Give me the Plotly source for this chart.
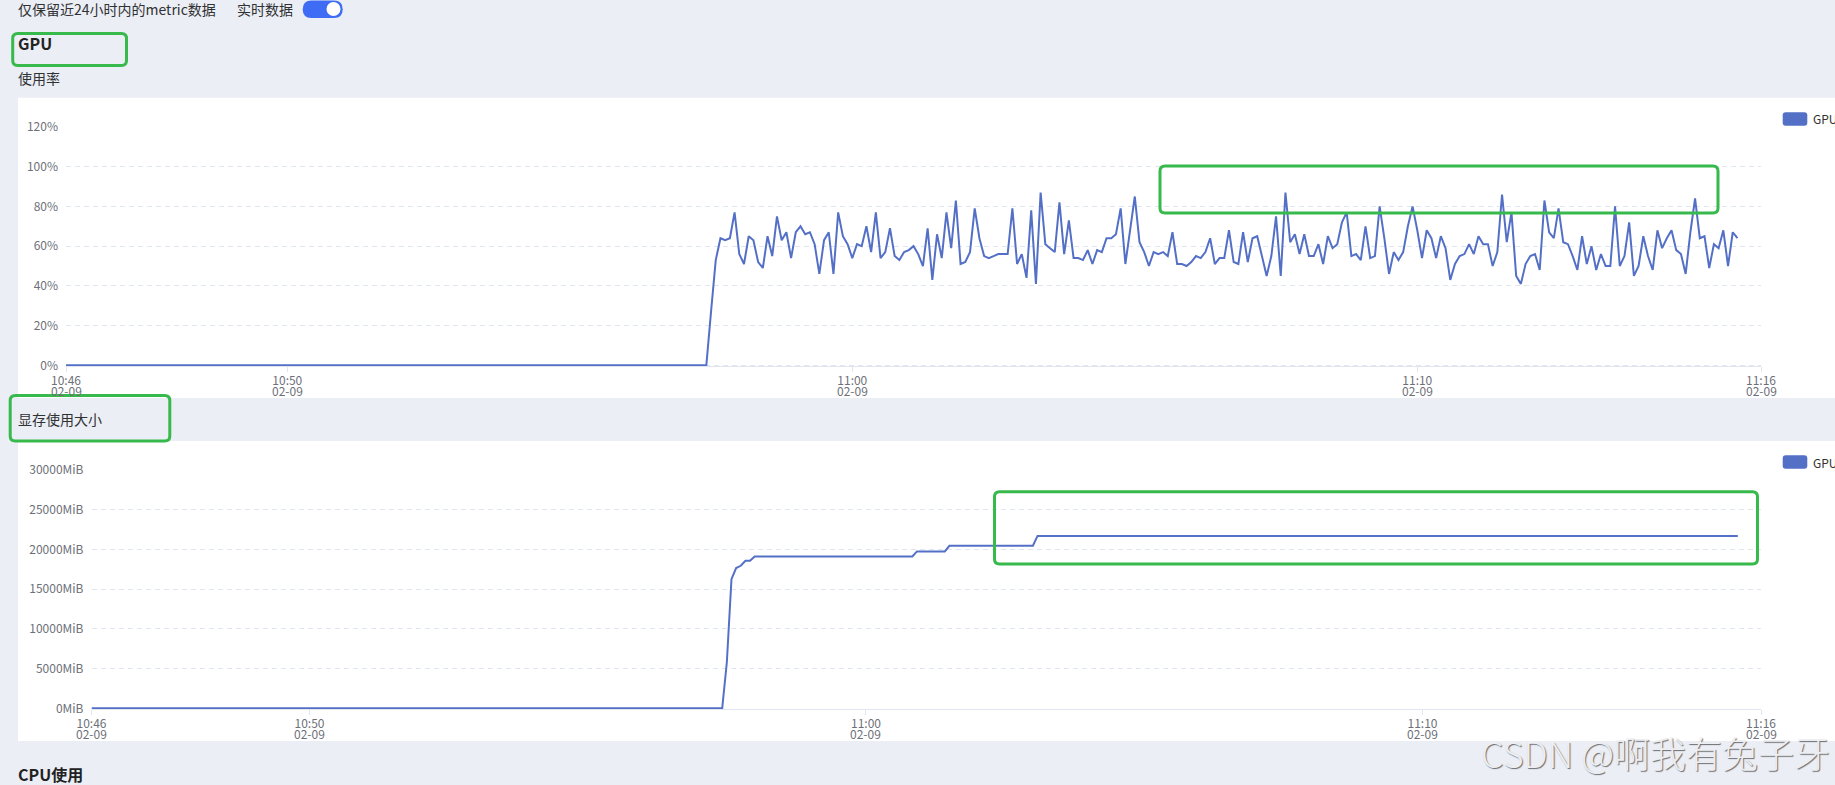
import pandas as pd
import plotly.graph_objects as go

# ---------------- data ----------------
DATE = "2025-02-09"
WINDOW_START = "10:46:05"
WINDOW_END = "11:16:05"

x_tick_times = ["10:46:05", "10:50:00", "11:00:00", "11:10:00", "11:16:05"]
x_tick_labels = ["10:46", "10:50", "11:00", "11:10", "11:16"]
x_tick_dates = ["02-09", "02-09", "02-09", "02-09", "02-09"]

gpu_pct_ticks = [0, 20, 40, 60, 80, 100, 120]
gpu_pct_labels = ["0%", "20%", "40%", "60%", "80%", "100%", "120%"]
mem_mib_ticks = [0, 5000, 10000, 15000, 20000, 25000, 30000]
mem_mib_labels = ["0MiB", "5000MiB", "10000MiB", "15000MiB", "20000MiB", "25000MiB", "30000MiB"]

# GPU utilisation (%): idle part, then 5 s samples starting at 10:57:25
gpu_idle_times = ["10:46:05"]
gpu_idle_values = [0]
gpu_sample_start = "10:57:25"
gpu_sample_step = "5s"
gpu_util = [
    0, 27,
    53, 64, 63, 64, 77, 56, 51, 65, 63, 52,
    49, 65, 55, 75, 63, 67, 54, 67, 70, 66,
    67, 61, 46, 63, 67, 46, 77, 65, 61, 54,
    61, 60, 70, 57, 77, 54, 57, 69, 55, 53,
    57, 58, 60, 56, 50, 69, 43, 66, 54, 77,
    59, 83, 51, 52, 57, 79, 64, 55, 54, 55,
    56, 56, 56, 79, 51, 56, 44, 78, 41, 87,
    61, 59, 57, 82, 56, 73, 54, 54, 53, 58,
    51, 58, 57, 64, 64, 66, 79, 51, 68, 85,
    62, 57, 50, 57, 56, 57, 55, 67, 51,
    51, 50, 52, 55, 54, 57, 64, 51, 54, 54,
    68, 52, 51, 67, 52, 64, 65, 55, 45, 55,
    75, 45, 87, 62, 66, 56, 66, 55, 55, 61,
    51, 65, 59, 61, 72, 77, 55, 56, 53, 70,
    54, 55, 80, 64, 46, 57, 53, 57, 70, 80,
    68, 54, 68, 64, 54, 65, 59, 43, 51, 55,
    56, 61, 56, 65, 61, 61, 50, 57, 86, 62,
    77, 45, 41, 51, 55, 56, 48, 83, 67, 64,
    79, 62, 61, 55, 48, 65, 51, 60, 48, 56,
    50, 50, 80, 50, 55, 72, 45, 50, 65, 55,
    48, 68, 59, 64, 68, 58, 56, 46, 67, 84,
    64, 65, 49, 61, 59, 68, 50, 67, 64,
]

# GPU memory used (MiB) at the sample times where it changes
mem_times = ["10:46:05", "10:57:25", "10:57:30", "10:57:35", "10:57:40", "10:57:45",
             "10:57:50", "10:57:55", "10:58:00", "11:00:50", "11:00:55", "11:01:25",
             "11:01:30", "11:03:00", "11:03:05", "11:15:40"]
mem_used_mib = [0, 0, 5800, 16260, 17650, 17940,
                18570, 18570, 19120, 19120, 19750, 19750,
                20460, 20460, 21700, 21700]

series_name = "GPU"

# ---------------- helpers ----------------
W, H = 1835, 785
FONT = "Microsoft YaHei, 'Noto Sans CJK SC', sans-serif"
LINE = "#5470c6"
AXIS = "#E0E6F1"
TICK_TXT = "#6E7079"
GREEN = "#37b94c"


def ts(t):
    return pd.Timestamp(f"{DATE} {t}")


def fx(px):
    return px / W


def fy(py):
    return 1 - py / H


def rrect(x0, y0, x1, y1, r):
    rx, ry = r / W, r / H
    X0, X1, T, B = fx(x0), fx(x1), fy(y0), fy(y1)
    return (f"M {X0+rx},{T} L {X1-rx},{T} Q {X1},{T} {X1},{T-ry} "
            f"L {X1},{B+ry} Q {X1},{B} {X1-rx},{B} L {X0+rx},{B} "
            f"Q {X0},{B} {X0},{B+ry} L {X0},{T-ry} Q {X0},{T} {X0+rx},{T} Z")


gpu_times = [ts(t) for t in gpu_idle_times] + list(
    pd.date_range(ts(gpu_sample_start), periods=len(gpu_util), freq=gpu_sample_step))
gpu_vals = gpu_idle_values + gpu_util
mem_x = [ts(t) for t in mem_times]

fig = go.Figure()
fig.add_trace(go.Scatter(x=gpu_times, y=gpu_vals, mode="lines", name=series_name,
                         line=dict(color=LINE, width=2), xaxis="x", yaxis="y",
                         hoverinfo="skip"))
fig.add_trace(go.Scatter(x=mem_x, y=mem_used_mib, mode="lines", name=series_name,
                         line=dict(color=LINE, width=2), xaxis="x2", yaxis="y2",
                         hoverinfo="skip"))

# plot areas (px): top 66..1761 x 127..365.3 ; bottom 91.5..1761 x 470..708.3
top_ppu = (365.3 - 127) / 120.0
bot_ppu = (708.3 - 470) / 30000.0


def xaxis_cfg(x0, anchor):
    return dict(domain=[fx(x0), fx(1761)], anchor=anchor, type="date",
                range=[ts(WINDOW_START), ts(WINDOW_END)],
                tickmode="array", tickvals=[ts(t) for t in x_tick_times],
                ticktext=x_tick_labels, ticks="outside", ticklen=5, tickcolor=AXIS,
                ticklabelstandoff=-2,
                showline=True, linecolor=AXIS, linewidth=1, showgrid=False,
                zeroline=False, automargin=False,
                tickfont=dict(size=12, color=TICK_TXT, family=FONT), fixedrange=True)


def yaxis_cfg(ybot, ytop, vmax, ppu, ticks, labels, anchor):
    return dict(domain=[fy(ybot + 1), fy(ytop)], anchor=anchor,
                range=[-1.0 / ppu, vmax], tickmode="array", tickvals=ticks,
                ticktext=labels, showgrid=True, gridcolor=AXIS,
                griddash="5px,4px", gridwidth=1, zeroline=False, showline=False,
                ticks="", ticklabelstandoff=7, automargin=False,
                tickfont=dict(size=12, color=TICK_TXT, family=FONT), fixedrange=True)


fig.update_layout(
    autosize=True, margin=dict(l=0, r=0, t=0, b=0, autoexpand=False),
    paper_bgcolor="#ebeef5", plot_bgcolor="white", showlegend=False,
    font=dict(family=FONT, size=12, color="#333"),
    xaxis=xaxis_cfg(66, "y"),
    yaxis=yaxis_cfg(365.3, 127, 120, top_ppu, gpu_pct_ticks, gpu_pct_labels, "x"),
    xaxis2=xaxis_cfg(91.5, "y2"),
    yaxis2=yaxis_cfg(708.3, 470, 30000, bot_ppu, mem_mib_ticks, mem_mib_labels, "x2"),
)

shapes = [
    # white panels
    dict(type="rect", xref="paper", yref="paper", x0=fx(18), x1=fx(1835), y0=fy(398),
         y1=fy(97.7), fillcolor="white", line=dict(width=0), layer="below"),
    dict(type="rect", xref="paper", yref="paper", x0=fx(18), x1=fx(1835), y0=fy(741),
         y1=fy(441), fillcolor="white", line=dict(width=0), layer="below"),
    # toggle switch
    dict(type="path", xref="paper", yref="paper", path=rrect(302.7, 0.5, 342.7, 18, 8.7),
         fillcolor="#3f6cf4", line=dict(width=0)),
    dict(type="circle", xref="paper", yref="paper", x0=fx(326.5), x1=fx(340.5),
         y0=fy(16), y1=fy(2), fillcolor="white", line=dict(width=0)),
    # legend swatches
    dict(type="path", xref="paper", yref="paper", path=rrect(1782.7, 112.3, 1807.3, 125.7, 3),
         fillcolor=LINE, line=dict(width=0)),
    dict(type="path", xref="paper", yref="paper", path=rrect(1782.7, 455.3, 1807.3, 468.7, 3),
         fillcolor=LINE, line=dict(width=0)),
]
# green highlight boxes
for (x0, y0, x1, y1) in [(12.7, 33.5, 126.5, 65.5), (10.2, 395.5, 169.8, 441),
                         (1160, 166, 1718, 213), (994.5, 491.7, 1757.5, 564)]:
    shapes.append(dict(type="path", xref="paper", yref="paper",
                       path=rrect(x0, y0, x1, y1, 5), line=dict(color=GREEN, width=3),
                       fillcolor="rgba(0,0,0,0)", layer="above"))
fig.update_layout(shapes=shapes)

ann = []


def text(x, y, s, size=14, color="#333", weight="normal", anchor="left"):
    ann.append(dict(xref="paper", yref="paper", x=fx(x), y=fy(y), text=s,
                    showarrow=False, xanchor=anchor, yanchor="middle", borderpad=0,
                    font=dict(size=size, color=color, family=FONT, weight=weight)))


text(17, 9.5, "仅保留近24小时内的metric数据", 14, "#303133")
text(236, 9.5, "实时数据", 14, "#303133")
text(17, 43.5, "GPU", 16, "#222", "bold")
text(17, 77.7, "使用率", 14, "#303133")
text(17, 419, "显存使用大小", 14, "#303133")
text(17, 773.5, "CPU使用", 16, "#222", "bold")
text(1812, 119, series_name, 12, "#333")
text(1812, 462, series_name, 12, "#333")

for t, d in zip(x_tick_times, x_tick_dates):
    ann.append(dict(xref="x", yref="paper", x=ts(t), y=fy(390), text=d, showarrow=False,
                    xanchor="center", yanchor="middle", borderpad=0,
                    font=dict(size=12, color=TICK_TXT, family=FONT)))
    ann.append(dict(xref="x2", yref="paper", x=ts(t), y=fy(733.3), text=d, showarrow=False,
                    xanchor="center", yanchor="middle", borderpad=0,
                    font=dict(size=12, color=TICK_TXT, family=FONT)))

ann.append(dict(xref="paper", yref="paper", x=fx(1480), y=fy(752), text="CSDN @啊我有兔子牙",
                showarrow=False, xanchor="left", yanchor="middle", borderpad=0,
                font=dict(size=36, color="#eceef2", family=FONT, weight=300,
                          shadow="1px 1px 1px rgba(0,0,0,0.55)")))
fig.update_layout(annotations=ann)

fig.write_html("out.html", config={"displayModeBar": False},
               default_width=f"{W}px; position:absolute; left:0; top:0",
               default_height=f"{H}px",
               post_script="document.body.style.margin='0';document.body.style.overflow='hidden';")
